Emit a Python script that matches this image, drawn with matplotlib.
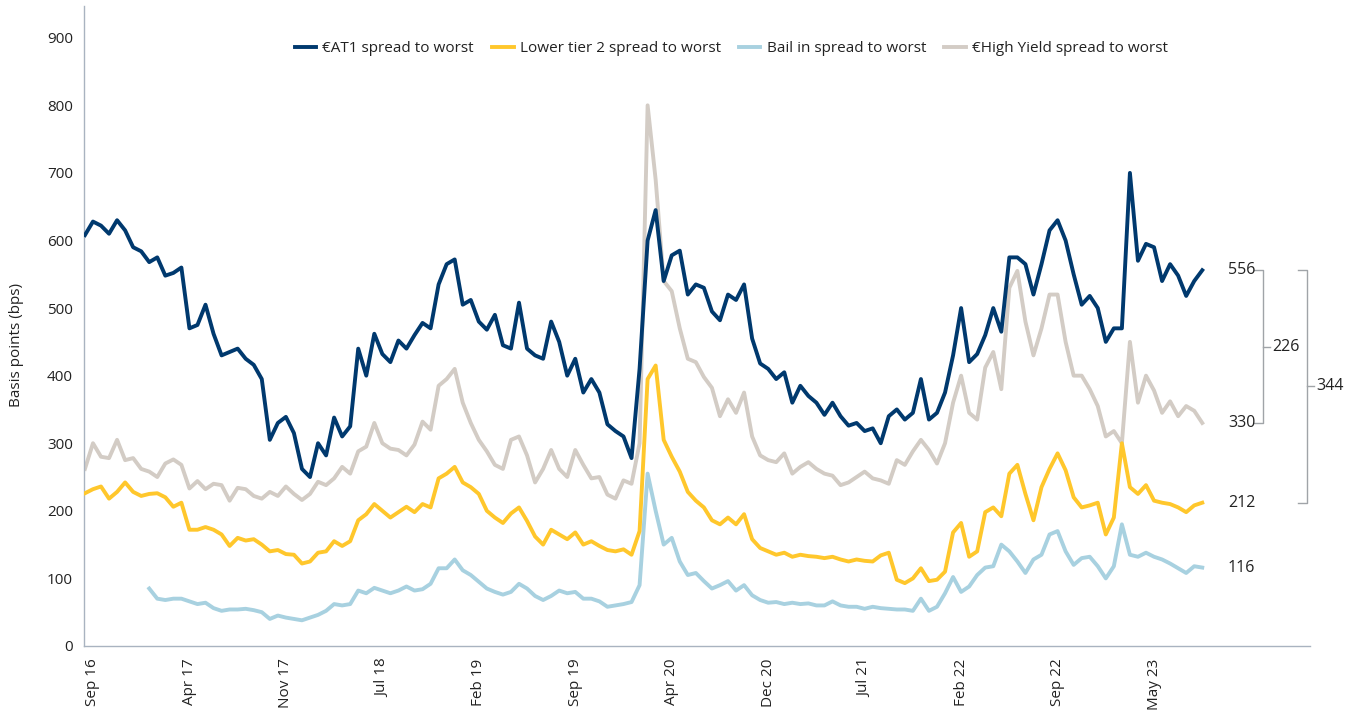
import numpy as np
import matplotlib
matplotlib.use("Agg")
import matplotlib.pyplot as plt

plt.rcParams['font.family'] = ['Open Sans', 'DejaVu Sans']

# Spread to worst in bps, sampled roughly every 2.5 weeks from Sep 2016
at1 = [608, 628, 622, 610, 630, 615, 590, 584, 568, 575, 548, 552, 560, 470, 475, 505, 462, 430, 435, 440, 425, 416, 395, 305, 330,
       339, 315, 262, 250, 300, 282, 338, 310, 325, 440, 400, 462, 432, 420, 452, 440, 460, 478, 470, 535, 565, 572, 505, 512, 480,
       468, 490, 445, 440, 508, 440, 430, 425, 480, 450, 400, 425, 375, 395, 375, 328, 318, 310, 278, 410, 600, 645, 540, 578,
       585, 520, 535, 530, 495, 482, 520, 512, 535, 455, 418, 410, 395, 405, 360, 385, 370, 360, 342, 360, 340, 326, 330, 318, 322, 300, 340, 350,
       335, 345, 395, 335, 345, 375, 430, 500, 420, 432, 460, 500, 465, 575, 575, 565, 520, 565, 615, 630, 600, 550, 505, 518,
       500, 450, 470, 470, 700, 570, 595, 590, 540, 565, 548, 518, 540, 556]

lt2 = [226, 232, 236, 218, 228, 242, 228, 222, 225, 226, 220, 206, 212, 172, 172, 176, 172, 165, 148, 160, 156, 158, 150, 140, 142,
       136, 135, 122, 125, 138, 140, 155, 148, 155, 186, 195, 210, 200, 190, 198, 206, 198, 210, 205, 248, 255, 265, 242, 235,
       225, 200, 190, 182, 196, 205, 185, 162, 150, 172, 165, 158, 168, 150, 155, 148, 142, 140, 143, 135, 170, 395, 415, 305, 280,
       258, 228, 215, 205, 186, 180, 190, 180, 195, 158, 145, 140, 135, 138, 132, 135, 133, 132, 130, 132, 128, 125, 128, 126, 125, 134, 138, 98,
       93, 100, 115, 96, 98, 110, 168, 182, 132, 140, 198, 205, 192, 255, 268, 225, 186, 235, 262, 285, 260, 220, 205, 208,
       212, 165, 190, 300, 235, 225, 238, 215, 212, 210, 205, 198, 208, 212]

nan = np.nan
bail = [nan, nan, nan, nan, nan, nan, nan, nan, 85, 70, 68, 70, 70, 66, 62, 64, 56, 52, 54, 54, 55, 53, 50, 40, 45,
        42, 40, 38, 42, 46, 52, 62, 60, 62, 82, 78, 86, 82, 78, 82, 88, 82, 84, 92, 115, 115, 128, 112, 105, 95,
        85, 80, 76, 80, 92, 85, 74, 68, 74, 82, 78, 80, 70, 70, 66, 58, 60, 62, 65, 90, 255, 200, 150, 160,
        125, 105, 108, 96, 85, 90, 96, 82, 90, 75, 68, 64, 65, 62, 64, 62, 63, 60, 60, 66, 60, 58, 58, 55, 58, 56, 55, 54,
        54, 52, 70, 52, 58, 78, 102, 80, 88, 105, 116, 118, 150, 140, 125, 108, 128, 135, 165, 170, 140, 120, 130, 132,
        118, 100, 118, 180, 135, 132, 138, 132, 128, 122, 115, 108, 118, 116]

hy = [262, 300, 280, 278, 305, 275, 278, 262, 258, 250, 270, 276, 268, 233, 244, 232, 240, 238, 215, 234, 232, 222, 218, 228, 222,
      236, 225, 216, 225, 243, 238, 248, 265, 255, 288, 295, 330, 300, 292, 290, 282, 298, 332, 320, 385, 395, 410, 360, 330, 305,
      288, 268, 262, 305, 310, 282, 242, 262, 290, 262, 250, 290, 268, 248, 250, 224, 218, 245, 240, 300, 800, 690, 540, 525,
      470, 425, 420, 398, 382, 340, 365, 345, 375, 310, 282, 275, 272, 285, 255, 265, 272, 262, 255, 252, 238, 242, 250, 258, 248, 245, 240, 275,
      268, 288, 305, 290, 270, 300, 360, 400, 345, 335, 412, 435, 380, 530, 555, 480, 430, 470, 520, 520, 450, 400, 400, 380,
      355, 310, 318, 300, 450, 360, 400, 378, 345, 362, 340, 355, 348, 330]

tick_labels = ['Sep 16', 'Apr 17', 'Nov 17', 'Jul 18', 'Feb 19', 'Sep 19', 'Apr 20',
               'Dec 20', 'Jul 21', 'Feb 22', 'Sep 22', 'May 23']
gap_small = 226   # AT1 - HY
gap_large = 344   # AT1 - LT2

x = np.arange(len(at1))

fig = plt.figure(figsize=(13.63, 7.22), dpi=100)
ax = fig.add_axes([0.0616, 0.1053, 0.8995, 0.8864])

lw = 2.8
ax.plot(x, hy, color='#D3CCC5', lw=lw, label='€High Yield spread to worst', zorder=2)
ax.plot(x, bail, color='#A8D1E0', lw=lw, label='Bail in spread to worst', zorder=3)
ax.plot(x, lt2, color='#FFC72C', lw=lw, label='Lower tier 2 spread to worst', zorder=4)
ax.plot(x, at1, color='#00396E', lw=lw, label='€AT1 spread to worst', zorder=5)

ax.set_xlim(-0.12, 152.4)
ax.set_ylim(0, 947)
ax.set_yticks(range(0, 1000, 100))
ax.set_xticks(np.arange(len(tick_labels)) * 12 + 1)
ax.set_xticklabels(tick_labels, rotation=90)
ax.tick_params(axis='both', length=0, labelsize=11, colors='#222222')
ax.tick_params(axis='x', pad=9)
ax.tick_params(axis='y', pad=8)

for side in ['top', 'right']:
    ax.spines[side].set_visible(False)
for side in ['left', 'bottom']:
    ax.spines[side].set_color('#A9B3C0')
    ax.spines[side].set_linewidth(1.0)

ax.set_ylabel('Basis points (bps)', fontsize=11, color='#222222')
ax.yaxis.set_label_coords(-0.049, 0.47)

handles, labels = ax.get_legend_handles_labels()
order = [3, 2, 1, 0]
ax.legend([handles[i] for i in order], [labels[i] for i in order],
          loc='center', bbox_to_anchor=(0.528, 0.933), ncol=4, frameon=False,
          fontsize=11, handlelength=1.4, handletextpad=0.4, columnspacing=1.2,
          labelcolor='#222222')

# end values
last = len(at1) - 1
for val in [at1[-1], hy[-1], lt2[-1], bail[-1]]:
    ax.text(last + 3.2, val, str(int(val)), ha='left', va='center', fontsize=11.5, color='#222222')

# brackets
gray = '#A0A4A8'
def bracket(xb, top, bottom, label):
    ax.plot([xb - 1.1, xb, xb, xb - 1.1], [top, top, bottom, bottom], color=gray, lw=1.0, clip_on=False)
    mid = (top + bottom) / 2
    ax.plot([xb, xb + 0.9], [mid, mid], color=gray, lw=1.0, clip_on=False)
    ax.text(xb + 1.2, mid, label, ha='left', va='center', fontsize=11.5, color='#222222')

bracket(146.5, at1[-1], hy[-1], str(gap_small))
bracket(152.0, at1[-1], lt2[-1], str(gap_large))

fig.savefig('out.png', dpi=100)
